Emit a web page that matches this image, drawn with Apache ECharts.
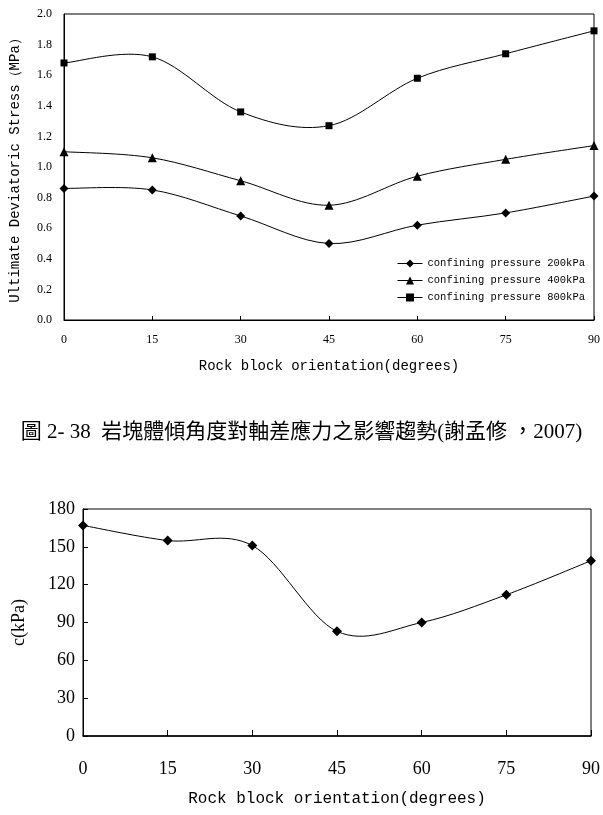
<!DOCTYPE html>
<html>
<head>
<meta charset="utf-8">
<script src="https://cdn.jsdelivr.net/npm/echarts@6/dist/echarts.min.js"></script>
<style>
  html, body { margin: 0; padding: 0; background: #fff; }
  #chart { width: 603px; height: 815px; }
</style>
</head>
<body>
<div id="chart"></div>
<script>
// rock block orientation (degrees)
var angles = [0, 15, 30, 45, 60, 75, 90];

// top chart: ultimate deviatoric stress (MPa)
var p200 = [0.86, 0.85, 0.68, 0.50, 0.62, 0.70, 0.81];
var p400 = [1.10, 1.06, 0.91, 0.75, 0.94, 1.05, 1.14];
var p800 = [1.68, 1.72, 1.36, 1.27, 1.58, 1.74, 1.89];

// bottom chart: cohesion c (kPa)
var cohesion = [167, 155, 151, 83, 90, 112, 139];

var legendNames = ["confining pressure 200kPa", "confining pressure 400kPa", "confining pressure 800kPa"];
var caption = "圖 2- 38  岩塊體傾角度對軸差應力之影響趨勢(謝孟修 ，2007)";

function pairs(ys) {
  return ys.map(function (v, i) { return [angles[i], v]; });
}

var mono = "'Liberation Mono', monospace";
var serif = "'Liberation Serif', 'Times New Roman', serif";

// smoothed curve like the spreadsheet's "smoothed line" (cardinal spline through the points)
function smoothCurve(name, ys, xi, yi) {
  var pts = pairs(ys);
  return {
    name: name,
    type: "custom",
    xAxisIndex: xi, yAxisIndex: yi,
    clip: true,
    silent: true,
    data: pts,
    encode: { x: 0, y: 1 },
    renderItem: function (params, api) {
      if (params.dataIndex !== 0) return null;
      var px = pts.map(function (p) { return api.coord(p); });
      var n = px.length;
      var d = "M" + px[0][0] + "," + px[0][1];
      for (var i = 0; i < n - 1; i++) {
        var p0 = px[Math.max(i - 1, 0)], p1 = px[i], p2 = px[i + 1], p3 = px[Math.min(i + 2, n - 1)];
        var c1 = [p1[0] + (p2[0] - p0[0]) / 6, p1[1] + (p2[1] - p0[1]) / 6];
        var c2 = [p2[0] - (p3[0] - p1[0]) / 6, p2[1] - (p3[1] - p1[1]) / 6];
        d += " C" + c1[0] + "," + c1[1] + " " + c2[0] + "," + c2[1] + " " + p2[0] + "," + p2[1];
      }
      return {
        type: "path",
        shape: { pathData: d },
        style: { fill: null, stroke: "#000", lineWidth: 1 }
      };
    }
  };
}

function markers(name, ys, symbol, size, xi, yi) {
  return {
    name: name,
    type: "line",
    xAxisIndex: xi, yAxisIndex: yi,
    symbol: symbol,
    symbolSize: size,
    z: 3,
    itemStyle: { color: "#000" },
    lineStyle: { color: "#000", width: 1, opacity: 0 },
    data: pairs(ys)
  };
}

var myChart = echarts.init(document.getElementById("chart"));
myChart.setOption({
  animation: false,
  backgroundColor: "#fff",
  grid: [
    { left: 62, top: 14, width: 536, height: 306, show: true, borderColor: "#000", borderWidth: 1 },
    { left: 83, top: 509, width: 513, height: 227, show: true, borderColor: "#000", borderWidth: 1 }
  ],
  legend: {
    orient: "vertical",
    right: 13,
    top: 253,
    itemWidth: 25,
    itemHeight: 10,
    itemGap: 6,
    textStyle: { fontFamily: mono, fontSize: 10.5, color: "#000" },
    data: legendNames.map(function (n) {
      return { name: n, lineStyle: { opacity: 1, width: 1, color: "#000" } };
    })
  },
  graphic: [
    {
      type: "text",
      left: "center",
      top: 422,
      style: {
        text: caption,
        fontFamily: "'Liberation Serif', 'Noto Sans CJK TC', serif",
        fontSize: 21,
        fill: "#000"
      }
    }
  ],
  xAxis: [
    {
      gridIndex: 0,
      type: "value",
      min: 0, max: 90, interval: 15,
      name: "Rock block orientation(degrees)",
      nameLocation: "middle",
      nameGap: 39,
      nameTextStyle: { fontFamily: mono, fontSize: 14, color: "#000" },
      axisLine: { lineStyle: { color: "#000" } },
      axisTick: { inside: true, length: 4, lineStyle: { color: "#000" } },
      axisLabel: { fontFamily: serif, fontSize: 12, color: "#000", margin: 14 },
      splitLine: { show: false }
    },
    {
      gridIndex: 1,
      type: "value",
      min: 0, max: 90, interval: 15,
      name: "Rock block orientation(degrees)",
      nameLocation: "middle",
      nameGap: 55,
      nameTextStyle: { fontFamily: mono, fontSize: 16, color: "#000" },
      axisLine: { lineStyle: { color: "#000", width: 1.5 } },
      axisTick: { inside: true, length: 6, lineStyle: { color: "#000" } },
      axisLabel: { fontFamily: serif, fontSize: 18, color: "#000", margin: 24 },
      splitLine: { show: false }
    }
  ],
  yAxis: [
    {
      gridIndex: 0,
      type: "value",
      min: 0, max: 2.0, interval: 0.2,
      name: "Ultimate Deviatoric Stress（MPa）",
      nameLocation: "middle",
      nameGap: 42,
      nameTextStyle: { fontFamily: mono, fontSize: 14, color: "#000" },
      axisLine: { show: true, lineStyle: { color: "#000" } },
      axisTick: { show: false },
      axisLabel: {
        fontFamily: serif, fontSize: 12, color: "#000", margin: 12,
        formatter: function (v) { return v.toFixed(1); }
      },
      splitLine: { show: false }
    },
    {
      gridIndex: 1,
      type: "value",
      min: 0, max: 180, interval: 30,
      name: "c(kPa)",
      nameLocation: "middle",
      nameGap: 55,
      nameTextStyle: { fontFamily: serif, fontSize: 18, color: "#000" },
      axisLine: { show: true, lineStyle: { color: "#000" } },
      axisTick: { inside: true, length: 5, lineStyle: { color: "#000" } },
      axisLabel: { fontFamily: serif, fontSize: 18, color: "#000", margin: 8 },
      splitLine: { show: false }
    }
  ],
  series: [
    markers(legendNames[0], p200, "diamond", 9, 0, 0),
    markers(legendNames[1], p400, "triangle", 9, 0, 0),
    markers(legendNames[2], p800, "rect", 7, 0, 0),
    smoothCurve(legendNames[0], p200, 0, 0),
    smoothCurve(legendNames[1], p400, 0, 0),
    smoothCurve(legendNames[2], p800, 0, 0),
    markers("c", cohesion, "diamond", 10, 1, 1),
    smoothCurve("c", cohesion, 1, 1)
  ]
});
</script>
</body>
</html>
